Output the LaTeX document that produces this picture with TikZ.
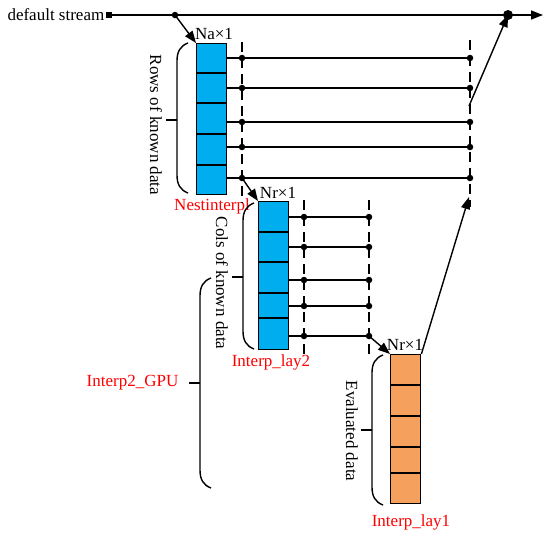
\documentclass[tikz,border=0pt]{standalone}
\usepackage{fontspec}
\setmainfont{Liberation Serif}
\usetikzlibrary{arrows.meta}
\definecolor{cellblue}{HTML}{00AEEF}
\definecolor{cellorange}{HTML}{F5A05C}
\definecolor{lblred}{HTML}{FF0000}
\newcommand{\mybrace}[5]{% x, ytop, ybot, ymid, name of tick end
  \draw (#1+11,#2) .. controls (#1+3,#2+3) and (#1,#2+9) .. (#1,#2+18) -- (#1,#3-18)
        .. controls (#1,#3-9) and (#1+3,#3-3) .. (#1+11,#3);
  \coordinate (#5) at (#1-11,#4);
  \draw (#1,#4) -- (#5);
}
\begin{document}
\begin{tikzpicture}[x=1pt,y=-1pt,line width=1.4pt,
  txt/.style={font=\fontsize{17}{19}\selectfont, inner sep=0pt},
  redtxt/.style={txt, text=lblred},
  arr/.style={-{Triangle[length=12pt,width=9pt]}},
  dotnode/.style={circle, fill, inner sep=0pt, minimum size=6.5pt},
  bigdot/.style={circle, fill, inner sep=0pt, minimum size=10pt},
  dashline/.style={dash pattern=on 10pt off 6pt},
  cellbox/.style={draw, line width=1.4pt, minimum width=30pt, anchor=north west, inner sep=0pt},
]
\useasboundingbox (0,0) rectangle (550,541);

% default stream
\node[txt, anchor=east] (ds) at (105,15) {default stream};
\node[fill, inner sep=0pt, minimum size=6pt] (sq) at (109,15) {};
\coordinate (send) at (543,15);
\node[dotnode] (d0) at (175,15) {};
\node[bigdot] (dbig) at (508,15) {};
\draw[arr] (sq.center) -- (send);

% box 1
\node[cellbox, fill=cellblue, minimum height=151pt] (box1) at (196,43) {};
\foreach \yy in {73,103,134,165} \draw (196,\yy) -- (226,\yy);
\node[txt, anchor=south] (na) at (214,40) {Na×1};
\node[redtxt] (nest) at (212,206) {Nestinterpl};

% box 2
\node[cellbox, fill=cellblue, minimum height=148pt] (box2) at (258,201) {};
\foreach \yy in {232,262,293,318} \draw (258,\yy) -- (288,\yy);
\node[txt, anchor=south] (nr2) at (278,199) {Nr×1};
\node[redtxt] (lay2) at (271,362) {Interp\_lay2};

% box 3
\node[cellbox, fill=cellorange, minimum height=149pt] (box3) at (390,354) {};
\foreach \yy in {385,416,447,473} \draw (390,\yy) -- (420,\yy);
\node[txt, anchor=south] (nr3) at (405,351) {Nr×1};
\node[redtxt] (lay1) at (411,522) {Interp\_lay1};

% dashed verticals
\draw[dashline] (242,42) -- (242,203);
\draw[dashline] (470,40) -- (470,207);
\draw[dashline] (304,200) -- (304,356);
\draw[dashline] (369,200) -- (369,356);

% rows from box 1
\foreach \yy/\i in {58/1,88/2,122/3,147/4,178/5}{
  \node[dotnode] (a\i) at (242,\yy) {};
  \node[dotnode] (b\i) at (470,\yy) {};
  \draw (226,\yy) -- (a\i.center) -- (b\i.center);
}
% rows from box 2
\foreach \yy/\i in {217/1,247/2,280/3,306/4,336/5}{
  \node[dotnode] (c\i) at (304,\yy) {};
  \node[dotnode] (e\i) at (369,\yy) {};
  \draw (288,\yy) -- (c\i.center) -- (e\i.center);
}

% arrows
\draw[arr] (d0.center) -- (box1.north west);
\draw[arr] (a5.center) -- (box2.north west);
\draw[arr] (e5.center) -- (box3.north west);
\coordinate (up1) at (469,197);
\draw[arr] (box3.north east) -- (up1);
\coordinate (up2) at (469,106);
\draw[arr] (up2) -- (dbig.center);

% braces and labels
\mybrace{177}{43}{193}{120}{t1}
\node[txt, rotate=-90] (rows) at (156,125) {Rows of known data};
\mybrace{243}{203}{349}{277}{t2}
\node[txt, rotate=-90] (cols) at (222,283) {Cols of known data};
\mybrace{372}{355}{505}{430}{t3}
\node[txt, rotate=-90] (eval) at (352,431) {Evaluated data};
\mybrace{200}{278}{488}{383}{t4}
\node[redtxt, anchor=east] (gpu) at (179,383) {Interp2\_GPU};
\end{tikzpicture}
\end{document}
